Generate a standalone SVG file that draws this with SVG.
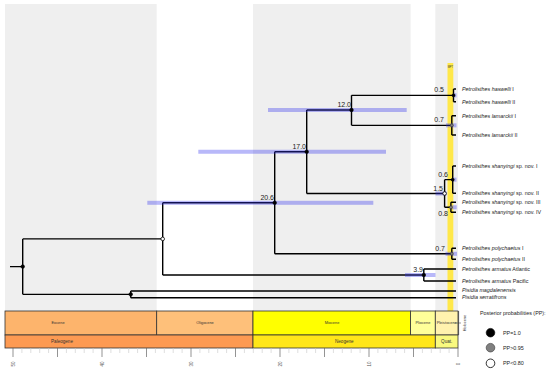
<svg xmlns="http://www.w3.org/2000/svg" width="550" height="373" viewBox="0 0 550 373">
<style>
.bg{fill:#efefef}
.br{fill:none;stroke:#000;stroke-width:1.4}
.hpd{fill:#3333ee;opacity:0.35}
.age{font-family:"Liberation Sans",Arial,sans-serif;font-size:7px;fill:#222;text-anchor:end}
.tip{font-family:"Liberation Sans",Arial,sans-serif;font-size:5.4px;fill:#222}
.it{font-style:italic}
.ep{stroke:#333;stroke-width:0.8}
.epl{font-family:"Liberation Sans",Arial,sans-serif;font-size:3.9px;fill:#333;text-anchor:middle}
.pel{font-family:"Liberation Sans",Arial,sans-serif;font-size:4.6px;fill:#333;text-anchor:middle}
.ax{font-family:"Liberation Sans",Arial,sans-serif;font-size:4.5px;fill:#555;text-anchor:middle}
.leg{font-family:"Liberation Sans",Arial,sans-serif;font-size:5.4px;fill:#222}
.pp1{fill:#000;stroke:#000;stroke-width:0.6}
.pp2{fill:#808080;stroke:#333;stroke-width:0.6}
.pp3{fill:#fff;stroke:#000;stroke-width:0.8}
</style>
<rect width="550" height="373" fill="#fff"/>
<g id="background">
<rect class="bg" x="5" y="4" width="151.7" height="307"/>
<rect class="bg" x="253" y="4" width="157.6" height="307"/>
<rect class="bg" x="435.3" y="4" width="22.7" height="307"/>
</g>
<g id="mpt">
<rect x="447.5" y="63" width="5.8" height="248" fill="#ffe84a"/>
<text x="450.4" y="67.5" font-family="Liberation Sans, Arial, sans-serif" font-size="2.6" fill="#333" text-anchor="middle">MPT</text>
</g>
<g id="connectors">
<path class="br" d="M10,266.6H22.7M22.7,238.9V294.35M22.7,238.9H162.7M22.7,294.35H130.7"/>
<path class="br" d="M130.7,291V297.7M130.7,291H456M130.7,297.7H456"/>
<path class="br" d="M162.7,202.8V275M162.7,202.8H274.7M162.7,275H423.8"/>
<path class="br" d="M423.8,269V281M423.8,269H456M423.8,281H456"/>
<path class="br" d="M274.7,151.75V253.8M274.7,151.75H306.7M274.7,253.8H451.8"/>
<path class="br" d="M451.8,248.3V259.3M451.8,248.3H456M451.8,259.3H456"/>
<path class="br" d="M306.7,110V193.5M306.7,110H351.5M306.7,193.5H444.6"/>
<path class="br" d="M351.5,95.35V125.35M351.5,95.35H453.5M351.5,125.35H451.8"/>
<path class="br" d="M453.5,89V101.7M453.5,89H456M453.5,101.7H456"/>
<path class="br" d="M451.8,115.7V135M451.8,115.7H456M451.8,135H456"/>
<path class="br" d="M444.6,179.65V207.3M444.6,179.65H452.7M444.6,207.3H450.9"/>
<path class="br" d="M452.7,166V193.3M452.7,166H456M452.7,193.3H456"/>
<path class="br" d="M450.9,202.3V212.3M450.9,202.3H456M450.9,212.3H456"/>
</g>
<g id="hpd">
<rect class="hpd" x="268" y="108" width="138.7" height="4"/>
<rect class="hpd" x="198.3" y="149.75" width="187.7" height="4"/>
<rect class="hpd" x="147.3" y="200.8" width="226" height="4"/>
<rect class="hpd" x="405" y="273" width="30.5" height="4"/>
<rect class="hpd" x="435.5" y="191.5" width="11.2" height="4"/>
<rect class="hpd" x="451.5" y="205.3" width="5.2" height="4"/>
<rect class="hpd" x="453" y="177.65" width="3.5" height="4"/>
<rect class="hpd" x="453" y="93.35" width="3.5" height="4"/>
<rect class="hpd" x="446" y="123.35" width="10.5" height="4"/>
<rect class="hpd" x="445.5" y="251.8" width="11.5" height="4"/>
</g>
<g id="nodes">
<g id="node-root"><circle class="pp1" cx="22.7" cy="266.6" r="1.8"/></g>
<g id="node-33"><circle class="pp3" cx="162.7" cy="238.9" r="1.8"/></g>
<g id="node-pisidia"><circle class="pp1" cx="130.7" cy="294.35" r="1.8"/></g>
<g id="node-20-6"><circle class="pp1" cx="274.7" cy="202.8" r="1.8"/><text class="age" x="274" y="199.5">20.6</text></g>
<g id="node-17-0"><circle class="pp1" cx="306.7" cy="151.75" r="1.8"/><text class="age" x="306" y="148.5">17.0</text></g>
<g id="node-12-0"><circle class="pp1" cx="351.5" cy="110" r="1.8"/><text class="age" x="351" y="106.5">12.0</text></g>
<g id="node-3-9"><circle class="pp1" cx="423.8" cy="275" r="1.8"/><text class="age" x="423" y="271.5">3.9</text></g>
<g id="node-1-5"><circle class="pp3" cx="444.6" cy="193.5" r="1.8"/><text class="age" x="443" y="190.5">1.5</text></g>
<g id="node-0-6"><circle class="pp1" cx="452.7" cy="179.65" r="1.5"/><text class="age" x="448" y="176.5">0.6</text></g>
<g id="node-0-8"><circle class="pp2" cx="450.9" cy="207.3" r="1.5"/><text class="age" x="448" y="215.5">0.8</text></g>
<g id="node-0-5"><circle class="pp1" cx="453.5" cy="95.35" r="1.5"/><text class="age" x="444" y="92">0.5</text></g>
<g id="node-0-7a"><circle class="pp2" cx="451.8" cy="125.35" r="1.5"/><text class="age" x="444" y="122">0.7</text></g>
<g id="node-0-7b"><circle class="pp2" cx="451.8" cy="253.8" r="1.5"/><text class="age" x="445" y="250.5">0.7</text></g>
</g>
<g id="tips">
<g id="tip-haswelli-1"><text class="tip" x="462" y="90.9"><tspan class="it">Petrolisthes haswelli</tspan> I</text></g>
<g id="tip-haswelli-2"><text class="tip" x="462" y="103.6"><tspan class="it">Petrolisthes haswelli</tspan> II</text></g>
<g id="tip-lamarckii-1"><text class="tip" x="462" y="117.6"><tspan class="it">Petrolisthes lamarckii</tspan> I</text></g>
<g id="tip-lamarckii-2"><text class="tip" x="462" y="136.9"><tspan class="it">Petrolisthes lamarckii</tspan> II</text></g>
<g id="tip-shanyingi-1"><text class="tip" x="462" y="167.9"><tspan class="it">Petrolisthes shanyingi</tspan> sp. nov. I</text></g>
<g id="tip-shanyingi-2"><text class="tip" x="462" y="195.2"><tspan class="it">Petrolisthes shanyingi</tspan> sp. nov. II</text></g>
<g id="tip-shanyingi-3"><text class="tip" x="462" y="204.2"><tspan class="it">Petrolisthes shanyingi</tspan> sp. nov. III</text></g>
<g id="tip-shanyingi-4"><text class="tip" x="462" y="214.2"><tspan class="it">Petrolisthes shanyingi</tspan> sp. nov. IV</text></g>
<g id="tip-polychaetus-1"><text class="tip" x="462" y="250.2"><tspan class="it">Petrolisthes polychaetus</tspan> I</text></g>
<g id="tip-polychaetus-2"><text class="tip" x="462" y="261.2"><tspan class="it">Petrolisthes polychaetus</tspan> II</text></g>
<g id="tip-armatus-atl"><text class="tip" x="462" y="270.9"><tspan class="it">Petrolisthes armatus</tspan> Atlantic</text></g>
<g id="tip-armatus-pac"><text class="tip" x="462" y="282.9"><tspan class="it">Petrolisthes armatus</tspan> Pacific</text></g>
<g id="tip-pisidia-mag"><text class="tip it" x="462" y="292.4">Pisidia magdalenensis</text></g>
<g id="tip-pisidia-ser"><text class="tip it" x="462" y="299.4">Pisidia serratifrons</text></g>
</g>
<g id="timescale">
<rect class="ep" x="5" y="311" width="151.7" height="24" fill="#fdb46c"/>
<rect class="ep" x="156.7" y="311" width="96.3" height="24" fill="#fec07a"/>
<rect class="ep" x="253" y="311" width="157.6" height="24" fill="#ffff00"/>
<rect class="ep" x="410.6" y="311" width="24.7" height="24" fill="#ffff99"/>
<rect class="ep" x="435.3" y="311" width="22.7" height="24" fill="#fff2ae"/>
<line class="ep" x1="458.6" y1="311" x2="458.6" y2="335"/>
<line x1="455" y1="323" x2="461" y2="323" stroke="#333" stroke-width="0.5"/>
<rect class="ep" x="5" y="335" width="248" height="13" fill="#fd9a52"/>
<rect class="ep" x="253" y="335" width="182.3" height="13" fill="#ffe619"/>
<rect class="ep" x="435.3" y="335" width="22.7" height="13" fill="#f9f97f"/>
<text class="epl" x="58" y="324.4">Eocene</text>
<text class="epl" x="205" y="324.4">Oligocene</text>
<text class="epl" x="332" y="324.4">Miocene</text>
<text class="epl" x="422.9" y="324.4">Pliocene</text>
<text class="epl" x="446.7" y="324.4">Pleistocene</text>
<text class="epl" x="0" y="0" transform="translate(466,323) rotate(-90)">Holocene</text>
<text class="pel" x="62" y="343.2">Paleogene</text>
<text class="pel" x="344.3" y="343.2">Neogene</text>
<text class="pel" x="446.7" y="343.2">Quat.</text>
</g>
<g id="axis">
<path stroke="#c8c8c8" stroke-width="0.6" d="M449.1,348V353M440.2,348V353M431.3,348V353M422.4,348V353M404.6,348V353M395.7,348V353M386.8,348V353M377.9,348V353M360.1,348V353M351.2,348V353M342.3,348V353M333.4,348V353M315.6,348V353M306.7,348V353M297.8,348V353M288.9,348V353M271.1,348V353M262.2,348V353M253.3,348V353M244.4,348V353M226.6,348V353M217.7,348V353M208.8,348V353M199.9,348V353M182.1,348V353M173.2,348V353M164.3,348V353M155.4,348V353M137.6,348V353M128.7,348V353M119.8,348V353M110.9,348V353M93.1,348V353M84.2,348V353M75.3,348V353M66.4,348V353M48.6,348V353M39.7,348V353M30.8,348V353M21.9,348V353"/>
<path stroke="#666" stroke-width="0.7" d="M458,348V357M413.5,348V357M369,348V357M324.5,348V357M280,348V357M235.5,348V357M191,348V357M146.5,348V357M102,348V357M57.5,348V357M13,348V357"/>
<text class="ax" transform="translate(14.5,364) rotate(-90)">50</text>
<text class="ax" transform="translate(103.5,364) rotate(-90)">40</text>
<text class="ax" transform="translate(192.5,364) rotate(-90)">30</text>
<text class="ax" transform="translate(281.5,364) rotate(-90)">20</text>
<text class="ax" transform="translate(370.5,364) rotate(-90)">10</text>
<text class="ax" transform="translate(459.5,364) rotate(-90)">0</text>
</g>
<g id="legend">
<text class="leg" x="480" y="315">Posterior probabilities (PP):</text>
<circle class="pp1" cx="490.5" cy="332.7" r="4.3"/>
<circle class="pp2" cx="490.5" cy="347.7" r="4.3"/>
<circle class="pp3" cx="490.5" cy="363.3" r="4.3"/>
<text class="leg" x="503" y="334.6">PP=1.0</text>
<text class="leg" x="503" y="349.6">PP&gt;0.95</text>
<text class="leg" x="503" y="365.2">PP&lt;0.80</text>
</g>
</svg>
